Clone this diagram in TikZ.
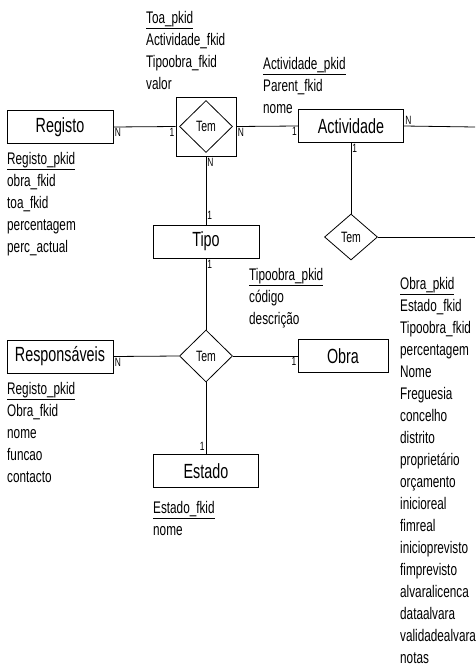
\documentclass[tikz,border=0pt]{standalone}
\usepackage{fontspec}
\setmainfont{Liberation Sans}[FakeStretch=0.70]
\usetikzlibrary{shapes.geometric,positioning}

\tikzset{
  entidade/.style={draw, line width=0.8pt, fill=white, minimum width=106pt, minimum height=33pt, inner sep=0pt, font=\fontsize{20.5}{20.5}\selectfont},
  relacao/.style={draw, diamond, line width=0.8pt, fill=white, minimum width=53pt, minimum height=52pt, inner sep=0pt, font=\fontsize{15}{15}\selectfont},
  fraca/.style={draw, line width=0.8pt, minimum width=60pt, minimum height=59pt},
  atributos/.style={anchor=north west, align=left, inner sep=0pt, font=\fontsize{16.8}{22}\selectfont},
  card/.style={font=\fontsize{12}{12}\selectfont, inner sep=1pt},
  liga/.style={line width=0.8pt}
}

\begin{document}
\begin{tikzpicture}[x=1pt,y=-1pt]
\useasboundingbox (0,0) rectangle (475,669);

% entidades
\node[entidade] (registo) at (60,127) {Registo};
\node[entidade, minimum width=105pt] (actividade) at (351,126) {Actividade};
\node[entidade] (tipo) at (206,241.5) {Tipo};
\node[entidade] (responsaveis) at (60,356.5) {Responsáveis};
\node[entidade, minimum width=90pt] (obra) at (343,356) {Obra};
\node[entidade, minimum width=105pt] (estado) at (206,471) {Estado};

% relacoes
\node[fraca] (tembox) at (206,126.5) {};
\node[relacao] (tema) at (206,126.5) {Tem};
\node[relacao, minimum height=46pt] (temb) at (351,237) {Tem};
\node[relacao] (temc) at (206,356) {Tem};

% saidas para fora da folha
\coordinate (fima) at (475,127);
\coordinate (fimb) at (475,237);

% ligacoes
\draw[liga] (registo.east) node[card,below right]{N} -- (tembox.west) node[card,below left]{1};
\draw[liga] (tembox.east) node[card,below right]{N} -- (actividade.west) node[card,below left]{1};
\draw[liga] (actividade.east) node[card,above right]{N} -- (fima);
\draw[liga] (actividade.south) node[card,below right]{1} -- (temb.north);
\draw[liga] (temb.east) -- (fimb);
\draw[liga] (tembox.south) node[card,below right]{N} -- (tipo.north) node[card,above right,yshift=4pt]{1};
\draw[liga] (tipo.south) node[card,below right]{1} -- (temc.north);
\draw[liga] (temc.west) -- (responsaveis.east) node[card,below right]{N};
\draw[liga] (temc.east) -- (obra.west) node[card,below left]{1};
\draw[liga] (temc.south) -- (estado.north) node[card,above left,yshift=2pt]{1};

% atributos
\node[atributos] (atoa) at (146,11) {\underline{Toa\_pkid}\\Actividade\_fkid\\Tipoobra\_fkid\\valor};
\node[atributos] (aactividade) at (263,57) {\underline{Actividade\_pkid}\\Parent\_fkid\\nome};
\node[atributos] (aregisto) at (7,152) {\underline{Registo\_pkid}\\obra\_fkid\\toa\_fkid\\percentagem\\perc\_actual};
\node[atributos] (atipo) at (249,268) {\underline{Tipoobra\_pkid}\\código\\descrição};
\node[atributos] (aobra) at (400,277) {\underline{Obra\_pkid}\\Estado\_fkid\\Tipoobra\_fkid\\percentagem\\Nome\\Freguesia\\concelho\\distrito\\proprietário\\orçamento\\inicioreal\\fimreal\\inicioprevisto\\fimprevisto\\alvaralicenca\\dataalvara\\validadealvara\\notas};
\node[atributos] (aresponsaveis) at (7,382) {\underline{Registo\_pkid}\\Obra\_fkid\\nome\\funcao\\contacto};
\node[atributos] (aestado) at (153,501) {\underline{Estado\_fkid}\\nome};
\end{tikzpicture}
\end{document}
